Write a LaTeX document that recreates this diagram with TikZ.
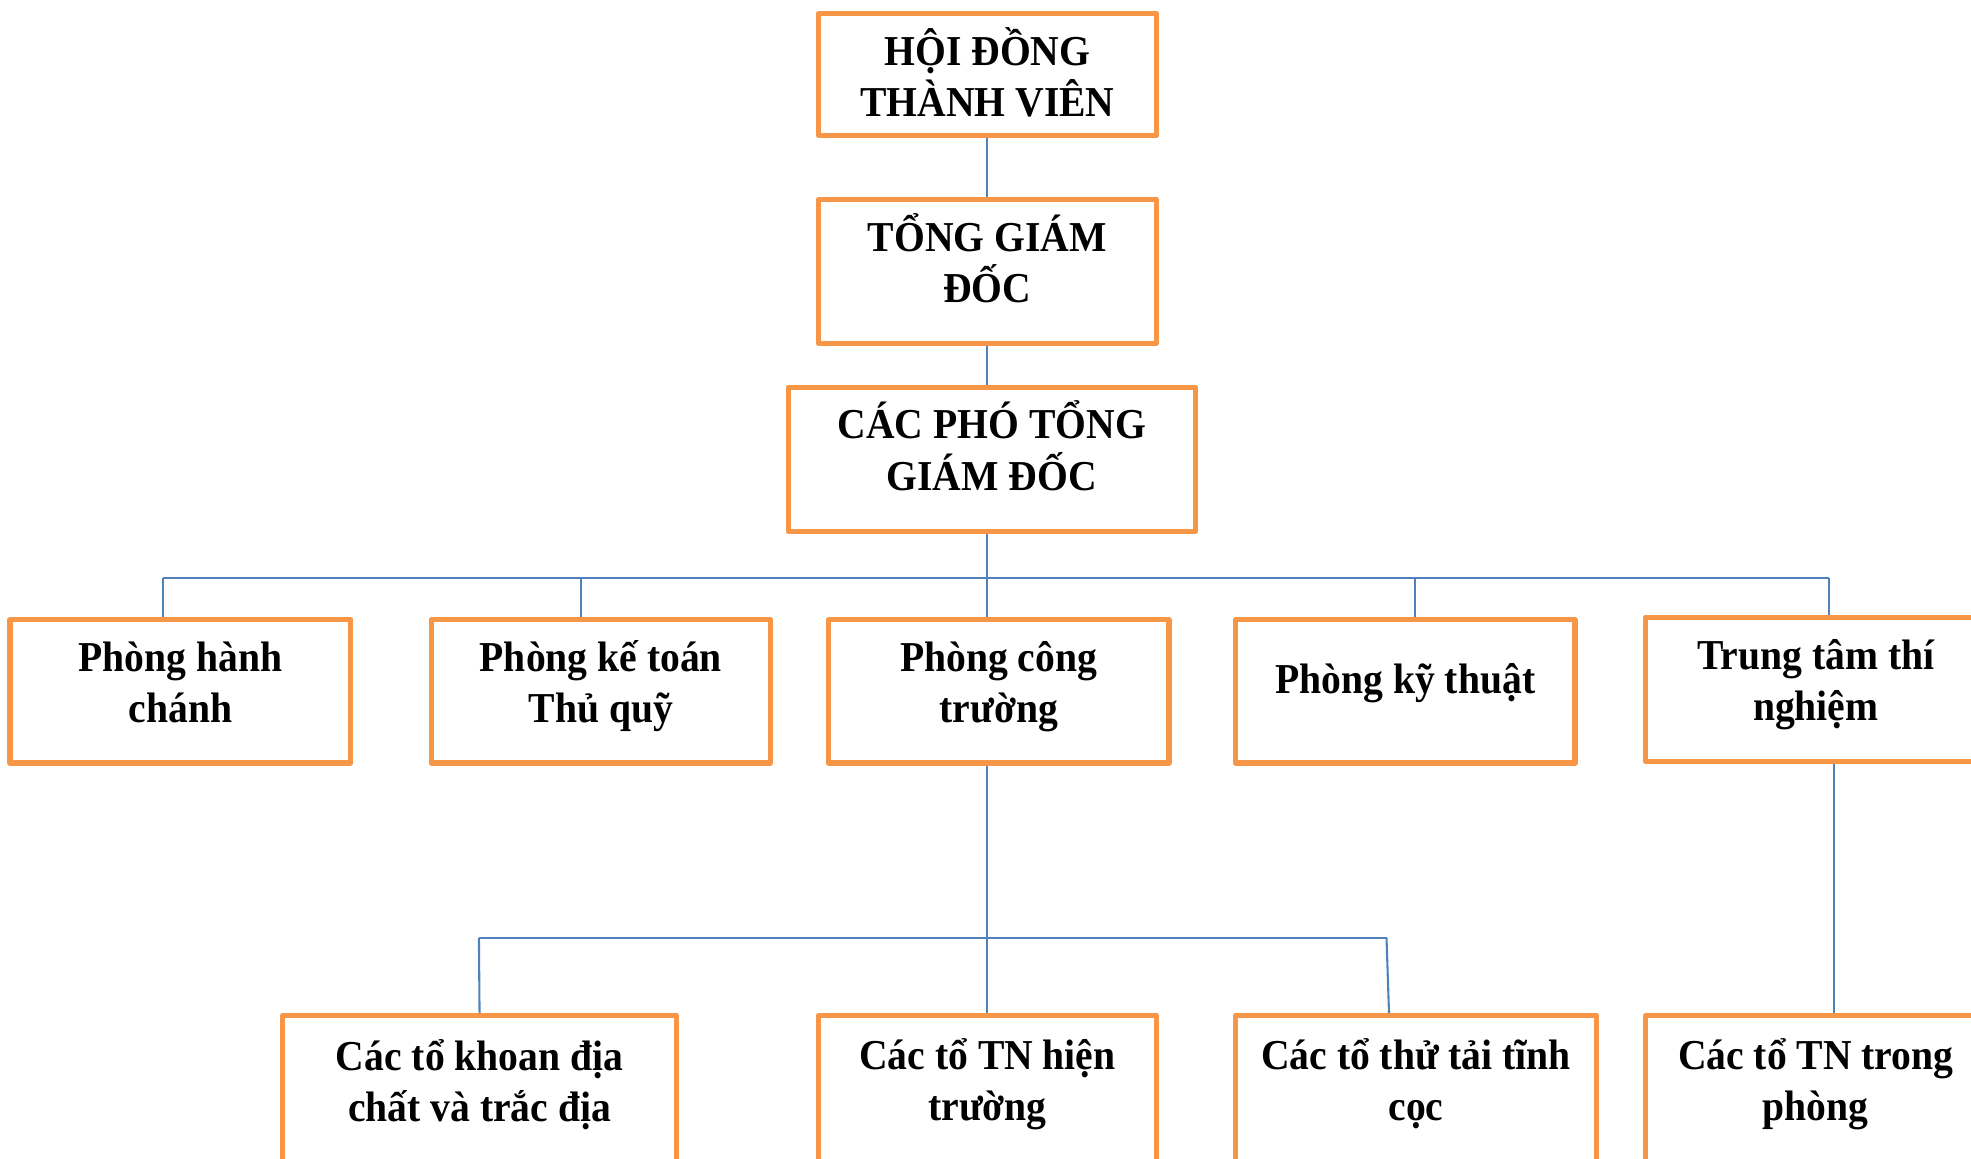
\documentclass[tikz,border=0pt]{standalone}
\usepackage{fontspec}
\setmainfont{Liberation Serif}[FakeStretch=0.93]
\usetikzlibrary{positioning,calc}
\definecolor{boxorange}{RGB}{247,150,70}
\definecolor{lineblue}{RGB}{79,129,189}

\begin{document}
\begin{tikzpicture}[x=0.012755cm, y=-0.012755cm,
  unit/.style={draw=boxorange, line width=1.5pt, line join=round, align=center,
    font=\fontsize{12.3}{14.8}\selectfont\bfseries, inner sep=2pt,
    execute at end node={\rule[-#1]{0pt}{0pt}}},
  unit/.default=5.5pt,
  link/.style={draw=lineblue, line width=0.6pt}]
\useasboundingbox (0,0) rectangle (1568,922);

% Management at the top
\node[unit=1.5pt, minimum width=3.431cm, minimum height=1.237cm] (hdtv) at (785.5,59.5) {HỘI ĐỒNG\\THÀNH VIÊN};
\node[unit=8pt, minimum width=3.431cm, minimum height=1.454cm] (tgd) at (785.5,216) {TỔNG GIÁM\\ĐỐC};
\node[unit=8pt, minimum width=4.133cm, minimum height=1.467cm] (pho) at (789,365.5) {CÁC PHÓ TỔNG\\GIÁM ĐỐC};

% Departments
\node[unit, minimum width=3.457cm, minimum height=1.454cm] (hc) at (143.5,550) {Phòng hành\\chánh};
\node[unit, minimum width=3.444cm, minimum height=1.454cm] (kt) at (478,550) {Phòng kế toán\\Thủ quỹ};
\node[unit, minimum width=3.457cm, minimum height=1.454cm] (ct) at (794.5,550) {Phòng công\\trường};
\node[unit=7.7pt, minimum width=3.444cm, minimum height=1.454cm] (kyt) at (1118,550) {Phòng kỹ thuật};
\node[unit, minimum width=3.457cm, minimum height=1.467cm] (ttn) at (1444.5,548.5) {Trung tâm thí\\nghiệm};

% Teams
\node[unit=6pt, minimum width=3.992cm, minimum height=1.531cm] (khoan) at (381.5,868) {Các tổ khoan địa\\chất và trắc địa};
\node[unit=6.5pt, minimum width=3.431cm, minimum height=1.531cm] (hientruong) at (785.5,868) {Các tổ TN hiện\\trường};
\node[unit=6.5pt, minimum width=3.661cm, minimum height=1.531cm] (thutai) at (1126.5,868) {Các tổ thử tải tĩnh\\cọc};
\node[unit=6.5pt, minimum width=3.457cm, minimum height=1.531cm] (trongphong) at (1444.5,868) {Các tổ TN trong\\phòng};

% Bus lines
\coordinate (busL) at (130,460);
\coordinate (busM) at (785,460);
\coordinate (busR) at (1455,460);
\coordinate (lowL) at (381,746);
\coordinate (lowM) at (785,746);
\coordinate (lowR) at (1103,746);

\draw[link] (hdtv.south) -- (tgd.north);
\draw[link] (tgd.south) -- (tgd.south |- pho.north);
\draw[link] (busM |- pho.south) -- (busM);
\draw[link] (busL) -- (busR);
\foreach \x/\n in {130/hc,462/kt,785/ct,1126/kyt,1455/ttn}
  \draw[link] (\n.north -| \x,460) -- (\x,460);

\draw[link] (ct.south -| lowM) -- (lowM);
\draw[link] (lowL) -- (lowR);
\draw[link] (lowL) -- (khoan.north);
\draw[link] (lowM) -- (hientruong.north -| lowM);
\draw[link] (lowR) -- (thutai.north -| 1105,0);
\draw[link] (ttn.south -| 1459,0) -- (trongphong.north -| 1459,0);
\end{tikzpicture}
\end{document}
